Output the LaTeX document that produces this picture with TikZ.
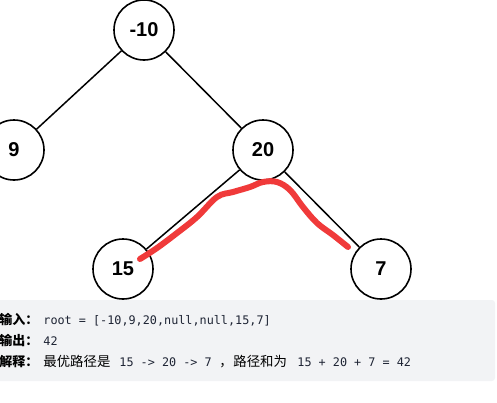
\documentclass[tikz,border=0pt]{standalone}
\usepackage{fontspec}
\setmainfont{Liberation Sans}
\setmonofont{DejaVu Sans Mono}
\newfontfamily\cjk{Noto Sans CJK SC}
\definecolor{boxgray}{RGB}{242,243,245}
\definecolor{codeblue}{RGB}{30,36,52}
\definecolor{pathred}{RGB}{240,58,58}

\begin{document}
\begin{tikzpicture}[x=1pt, y=-1pt, thick,
  main node/.style={circle, draw, line width=1.6pt, minimum size=60pt, inner sep=0pt, font=\fontsize{20}{24}\selectfont\bfseries},
  label text/.style={anchor=base west, inner sep=0pt, font=\cjk\fontsize{13}{15}\selectfont\bfseries},
  code text/.style={anchor=base west, inner sep=0pt, text=codeblue, font=\ttfamily\fontsize{11.8}{14}\selectfont},
  zh text/.style={anchor=base west, inner sep=0pt, font=\cjk\fontsize{13.4}{15}\selectfont}]

\useasboundingbox (0,0) rectangle (497,402);
\fill[boxgray, rounded corners=3pt] (-10,300) rectangle (495,381);

\node[main node](1) at (144,30) {-10};
\node[main node](2) at (14,150) {9};
\node[main node](3) at (263,150) {20};
\node[main node](4) at (123,269) {15};
\node[main node](5) at (381,269) {7};

\draw[line width=1.5pt] (1) -- (2);
\draw[line width=1.5pt] (1) -- (3);
\draw[line width=1.5pt] (3) -- (4);
\draw[line width=1.5pt] (3) -- (5);

% max path
\draw[pathred, line width=6pt, line cap=round, line join=round] plot[smooth, tension=0.6] coordinates {(140,259) (157,248) (177,233) (197,217) (217,197) (233,192) (250,187) (263,182) (277,182) (290,190) (303,207) (317,223) (333,235) (348,247)};

\node[label text] (inl) at (-1,324) {输入：};
\node[code text] (inv) at (43,324) {root = [-10,9,20,null,null,15,7]};
\node[label text] (outl) at (-1,345) {输出：};
\node[code text] (outv) at (43,345) {42};
\node[label text] (exl) at (-1,366) {解释：};
\node[zh text] (ex1) at (43,366) {最优路径是};
\node[code text] (ex2) at (119,366) {15 -> 20 -> 7};
\node[zh text] (ex3) at (219,366) {，};
\node[zh text] (ex4) at (233,366) {路径和为};
\node[code text] (ex5) at (297,366) {15 + 20 + 7 = 42};

\end{tikzpicture}
\end{document}
